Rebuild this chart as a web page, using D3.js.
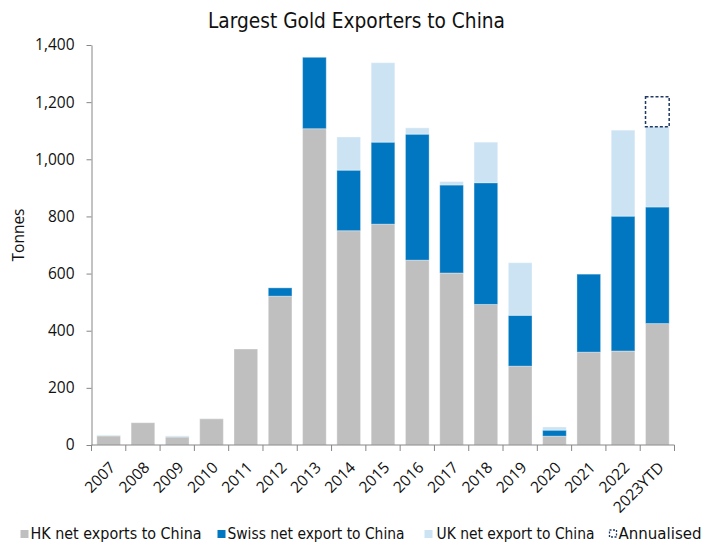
<!DOCTYPE html>
<html>
<head>
<meta charset="utf-8">
<script src="https://cdn.jsdelivr.net/npm/d3@7"></script>
<style>
  html, body { margin: 0; padding: 0; background: #fff; }
  svg { display: block; }
  .cond { font-family: "Liberation Sans Narrow", "DejaVu Sans Condensed", "Roboto", sans-serif; font-stretch: condensed; }
  .reg { font-family: "Open Sans", "Noto Sans", sans-serif; }
</style>
</head>
<body>
<svg id="chart" width="704" height="546"></svg>
<script>
// Chinese gold imports by source, tonnes
const years = ["2007", "2008", "2009", "2010", "2011", "2012", "2013", "2014", "2015",
               "2016", "2017", "2018", "2019", "2020", "2021", "2022", "2023YTD"];
const hkExports    = [32, 78, 28, 92, 336, 521, 1107, 750, 773, 647, 602, 492, 276, 31, 325, 329, 425];
const swissExports = [0, 0, 0, 0, 0, 29, 250, 212, 287, 441, 308, 426, 178, 21, 273, 472, 408];
const ukExports    = [3, 0, 4, 1, 0, 0, 0, 116, 278, 22, 12, 142, 184, 11, 0, 301, 281];
// Annualised full-year total for the partial year
const annualised   = [null, null, null, null, null, null, null, null, null,
                      null, null, null, null, null, null, null, 1219];
const yTicks = [0, 200, 400, 600, 800, 1000, 1200, 1400];

const seriesKeys = ["hk", "swiss", "uk"];
const seriesNames = ["HK net exports to China", "Swiss net export to China", "UK net export to China"];
const colors = { hk: "#BFBFBF", swiss: "#0077C0", uk: "#CCE3F3" };
const boxColor = "#1F3864";

const rows = years.map((y, i) => ({ year: y, hk: hkExports[i], swiss: swissExports[i], uk: ukExports[i], ann: annualised[i] }));

const svg = d3.select("#chart");
const plotLeft = 91.5, plotRight = 674.5, plotTop = 45, plotBottom = 445;

const x = d3.scaleBand().domain(years).range([plotLeft, plotRight]).paddingInner(0.31).paddingOuter(0.155);
const y = d3.scaleLinear().domain([0, 1400]).range([plotBottom, plotTop]);

// Title
svg.append("text").attr("class", "cond")
  .attr("x", 208).attr("y", 28)
  .attr("font-size", 21).attr("fill", "#111")
  .attr("textLength", 297).attr("lengthAdjust", "spacingAndGlyphs")
  .text("Largest Gold Exporters to China");

// Stacked bars
const stack = d3.stack().keys(seriesKeys);
const stacked = stack(rows);

svg.append("g").selectAll("g").data(stacked).join("g")
  .attr("fill", d => colors[d.key])
  .selectAll("rect").data(d => d.filter(p => p[1] - p[0] > 0)).join("rect")
  .attr("x", d => x(d.data.year))
  .attr("width", x.bandwidth())
  .attr("y", d => y(d[1]))
  .attr("height", d => y(d[0]) - y(d[1]))
  .attr("stroke", "#fff").attr("stroke-opacity", 0.35).attr("stroke-width", 1);

// Annualised outline box above the stacked total
svg.append("g").selectAll("rect").data(rows.filter(r => r.ann != null)).join("rect")
  .attr("x", d => x(d.year))
  .attr("width", x.bandwidth())
  .attr("y", d => y(d.ann))
  .attr("height", d => y(d.hk + d.swiss + d.uk) - y(d.ann))
  .attr("fill", "none").attr("stroke", boxColor)
  .attr("stroke-width", 1.5).attr("stroke-dasharray", "3,2");

// Y axis
const yAxis = svg.append("g").attr("transform", `translate(${plotLeft},0)`)
  .call(d3.axisLeft(y).tickValues(yTicks).tickFormat(d3.format(",")).tickSize(5).tickSizeOuter(0).tickPadding(12));
yAxis.selectAll("path, line").attr("stroke", "#868686");
yAxis.selectAll("text").attr("class", "reg").attr("font-size", 15.5).attr("fill", "#111");

svg.append("text").attr("class", "reg")
  .attr("transform", `translate(24,${(plotTop + plotBottom) / 2 - 10}) rotate(-90)`)
  .attr("text-anchor", "middle").attr("font-size", 15.5).attr("fill", "#111")
  .text("Tonnes");

// X axis: baseline, boundary ticks, rotated labels
const xg = svg.append("g");
xg.append("line").attr("x1", plotLeft).attr("x2", plotRight).attr("y1", plotBottom).attr("y2", plotBottom)
  .attr("stroke", "#868686");
const step = x.step();
const edges = years.map(yr => x(yr) - (step - x.bandwidth()) / 2).concat([plotRight]);
xg.selectAll("line.tick").data(edges).join("line").attr("class", "tick")
  .attr("x1", d => d).attr("x2", d => d).attr("y1", plotBottom).attr("y2", plotBottom + 6)
  .attr("stroke", "#868686");
xg.selectAll("text").data(years).join("text").attr("class", "reg")
  .attr("transform", d => `translate(${x(d) + x.bandwidth() / 2 + 1},${plotBottom + 17}) rotate(-45)`)
  .attr("text-anchor", "end").attr("dy", "0.6em")
  .attr("font-size", 15.5).attr("fill", "#111")
  .text(d => d);

// Legend
const legendItems = [
  { key: "hk", label: seriesNames[0], sx: 20.5, tx: 30.5, len: 171 },
  { key: "swiss", label: seriesNames[1], sx: 217.5, tx: 227.5, len: 177 },
  { key: "uk", label: seriesNames[2], sx: 424.5, tx: 436.5, len: 158 },
  { key: "ann", label: "Annualised", sx: 609.5, tx: 618.5, len: 83 }
];
const lg = svg.append("g");
legendItems.forEach(it => {
  if (it.key === "ann") {
    lg.append("rect").attr("x", it.sx).attr("y", 530).attr("width", 7).attr("height", 7)
      .attr("fill", "none").attr("stroke", boxColor).attr("stroke-width", 1.3).attr("stroke-dasharray", "2,1.5");
  } else {
    lg.append("rect").attr("x", it.sx).attr("y", 530).attr("width", 8).attr("height", 8)
      .attr("fill", colors[it.key]);
  }
  lg.append("text").attr("class", "cond")
    .attr("x", it.tx).attr("y", 539)
    .attr("font-size", 16).attr("fill", "#111")
    .attr("textLength", it.len).attr("lengthAdjust", "spacingAndGlyphs")
    .text(it.label);
});
</script>
</body>
</html>
